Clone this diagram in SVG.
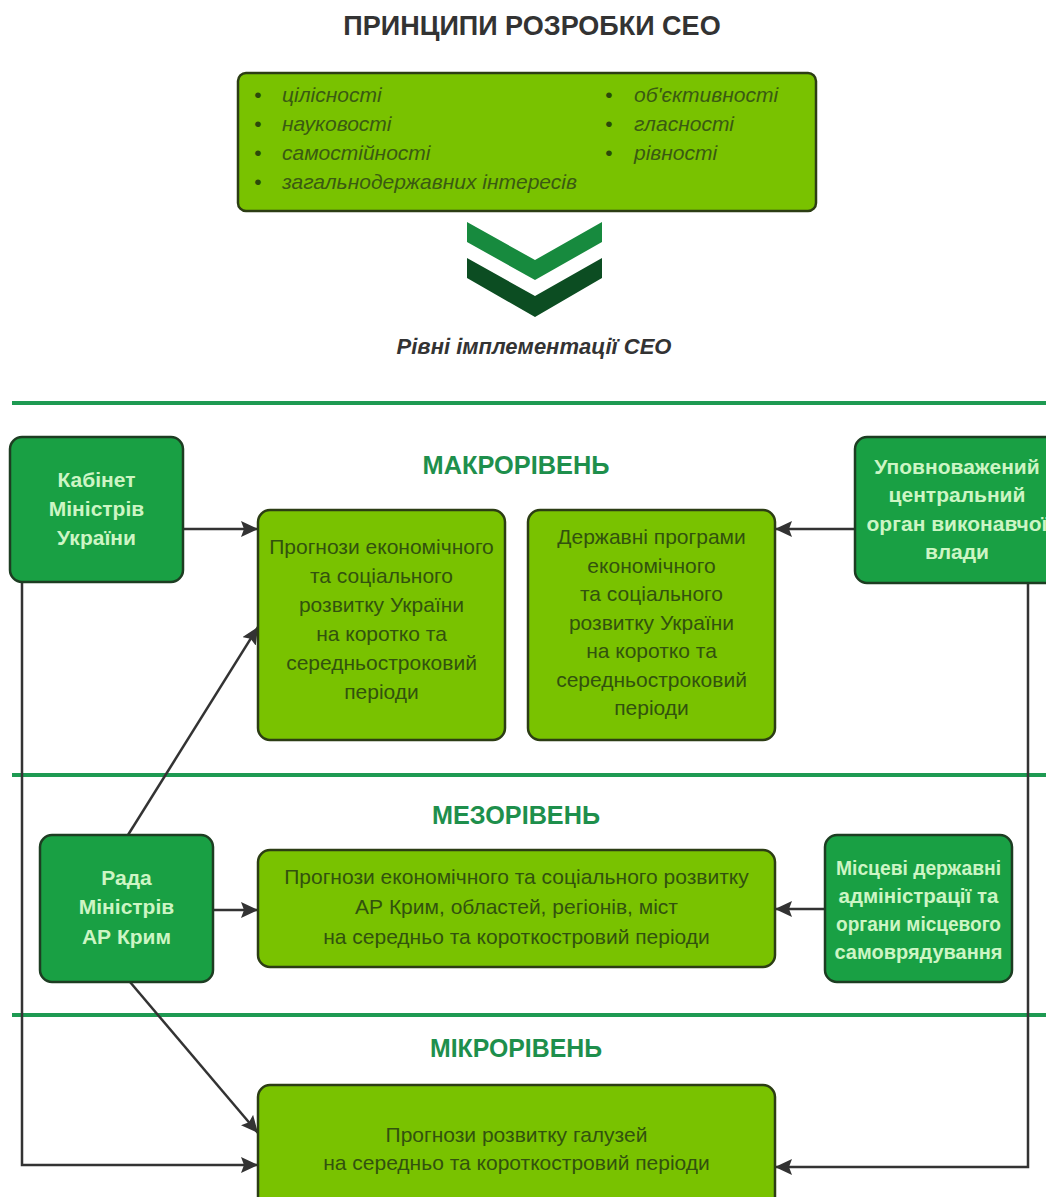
<svg xmlns="http://www.w3.org/2000/svg" width="1046" height="1197" viewBox="0 0 1046 1197">
<defs>
<style>
text{font-family:"Liberation Sans",Arial,sans-serif}
.title{font-size:27px;font-weight:bold;fill:#333;text-anchor:middle}
.sub{font-size:22px;font-weight:bold;font-style:italic;fill:#333;text-anchor:middle}
.bul{font-size:21px;font-style:italic;fill:#3a5a12}
.dot{font-size:21px;fill:#2a4a0a;text-anchor:middle}
.lvl{font-size:26px;font-weight:bold;fill:#1e8f4c;text-anchor:middle}
.lime{fill:#79c200;stroke:#2c3d14;stroke-width:2.5}
.dark{fill:#19a044;stroke:#1d3d22;stroke-width:2.5}
.lt{font-size:21px;fill:#32520e;text-anchor:middle}
.dt{font-size:21px;font-weight:bold;fill:#cdf5c4;text-anchor:middle}
.sep{stroke:#1e9a52;stroke-width:4}
.con{fill:none;stroke:#333;stroke-width:2.5}
</style>
<marker id="ah" markerUnits="userSpaceOnUse" markerWidth="18" markerHeight="16" refX="17" refY="8" orient="auto">
<path d="M0,0 L17,8 L0,16 L3,8 z" fill="#333"/>
</marker>
</defs>
<rect width="1046" height="1197" fill="#fff"/>

<g id="title">
<text class="title" x="532" y="35">ПРИНЦИПИ РОЗРОБКИ СЕО</text>
</g>

<g id="principles">
<rect class="lime" x="238" y="73" width="578" height="138" rx="8"/>
<text class="dot" x="258" y="102">•</text><text class="bul" x="282" y="102">цілісності</text>
<text class="dot" x="258" y="131">•</text><text class="bul" x="282" y="131">науковості</text>
<text class="dot" x="258" y="160">•</text><text class="bul" x="282" y="160">самостійності</text>
<text class="dot" x="258" y="189">•</text><text class="bul" x="282" y="189">загальнодержавних інтересів</text>
<text class="dot" x="609" y="102">•</text><text class="bul" x="634" y="102">об'єктивності</text>
<text class="dot" x="609" y="131">•</text><text class="bul" x="634" y="131">гласності</text>
<text class="dot" x="609" y="160">•</text><text class="bul" x="634" y="160">рівності</text>
</g>

<g id="chevrons">
<polygon points="467,222 535,260 602,222 602,242 535,280 467,242" fill="#178a3e"/>
<polygon points="467,258 535,296 602,258 602,278 535,317 467,278" fill="#0c4d22"/>
</g>

<g id="levels-title">
<text class="sub" x="534" y="354">Рівні імплементації СЕО</text>
</g>

<g id="separators">
<line class="sep" x1="12" y1="403" x2="1046" y2="403"/>
<line class="sep" x1="12" y1="775" x2="1046" y2="775"/>
<line class="sep" x1="12" y1="1015" x2="1046" y2="1015"/>
</g>

<g id="level-labels">
<text class="lvl" x="516" y="474" textLength="187" lengthAdjust="spacingAndGlyphs">МАКРОРІВЕНЬ</text>
<text class="lvl" x="516" y="824" textLength="168" lengthAdjust="spacingAndGlyphs">МЕЗОРІВЕНЬ</text>
<text class="lvl" x="516" y="1057" textLength="172" lengthAdjust="spacingAndGlyphs">МІКРОРІВЕНЬ</text>
</g>

<g id="connectors">
<path class="con" d="M183,529 H258" marker-end="url(#ah)"/>
<path class="con" d="M855,529 H775" marker-end="url(#ah)"/>
<path class="con" d="M22,582 V1165 H258" marker-end="url(#ah)"/>
<path class="con" d="M1028,583 V1167 H775" marker-end="url(#ah)"/>
<path class="con" d="M128,835 L258,627" marker-end="url(#ah)"/>
<path class="con" d="M213,910 H258" marker-end="url(#ah)"/>
<path class="con" d="M825,909 H775" marker-end="url(#ah)"/>
<path class="con" d="M130,982 L258,1133" marker-end="url(#ah)"/>
</g>

<g id="cabinet">
<rect class="dark" x="10" y="437" width="173" height="145" rx="12"/>
<text class="dt" x="96.5" y="487">Кабінет</text>
<text class="dt" x="96.5" y="516">Міністрів</text>
<text class="dt" x="96.5" y="545">України</text>
</g>

<g id="macro-forecast">
<rect class="lime" x="258" y="510" width="247" height="230" rx="12"/>
<text class="lt" x="381.5" y="554">Прогнози економічного</text>
<text class="lt" x="381.5" y="583">та соціального</text>
<text class="lt" x="381.5" y="612">розвитку України</text>
<text class="lt" x="381.5" y="641">на коротко та</text>
<text class="lt" x="381.5" y="670">середньостроковий</text>
<text class="lt" x="381.5" y="699">періоди</text>
</g>

<g id="macro-programs">
<rect class="lime" x="528" y="510" width="247" height="230" rx="12"/>
<text class="lt" x="651.5" y="544">Державні програми</text>
<text class="lt" x="651.5" y="573">економічного</text>
<text class="lt" x="651.5" y="601">та соціального</text>
<text class="lt" x="651.5" y="630">розвитку України</text>
<text class="lt" x="651.5" y="658">на коротко та</text>
<text class="lt" x="651.5" y="687">середньостроковий</text>
<text class="lt" x="651.5" y="715">періоди</text>
</g>

<g id="central-body">
<rect class="dark" x="855" y="437" width="210" height="146" rx="12"/>
<text class="dt" x="957" y="474">Уповноважений</text>
<text class="dt" x="957" y="502">центральний</text>
<text class="dt" x="957" y="531">орган виконавчої</text>
<text class="dt" x="957" y="559">влади</text>
</g>

<g id="rada">
<rect class="dark" x="40" y="835" width="173" height="147" rx="12"/>
<text class="dt" x="126.5" y="885">Рада</text>
<text class="dt" x="126.5" y="914">Міністрів</text>
<text class="dt" x="126.5" y="944">АР Крим</text>
</g>

<g id="meso-forecast">
<rect class="lime" x="258" y="850" width="517" height="117" rx="12"/>
<text class="lt" x="516.5" y="884">Прогнози економічного та соціального розвитку</text>
<text class="lt" x="516.5" y="914">АР Крим, областей, регіонів, міст</text>
<text class="lt" x="516.5" y="944">на середньо та короткостровий періоди</text>
</g>

<g id="local">
<rect class="dark" x="825" y="835" width="187" height="147" rx="12"/>
<text class="dt" x="918.5" y="875" textLength="165" lengthAdjust="spacingAndGlyphs">Місцеві державні</text>
<text class="dt" x="918.5" y="903" textLength="160" lengthAdjust="spacingAndGlyphs">адміністрації та</text>
<text class="dt" x="918.5" y="931" textLength="165" lengthAdjust="spacingAndGlyphs">органи місцевого</text>
<text class="dt" x="918.5" y="959" textLength="168" lengthAdjust="spacingAndGlyphs">самоврядування</text>
</g>

<g id="micro-forecast">
<rect class="lime" x="258" y="1085" width="517" height="130" rx="12"/>
<text class="lt" x="516.5" y="1142">Прогнози розвитку галузей</text>
<text class="lt" x="516.5" y="1170">на середньо та короткостровий періоди</text>
</g>
</svg>
